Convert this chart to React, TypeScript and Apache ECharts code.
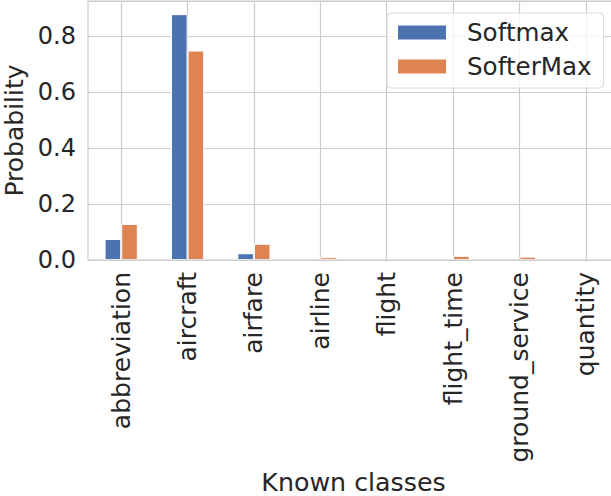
import React, { useEffect, useRef } from "react";
import * as echarts from "echarts";

const categories = [
  "abbreviation",
  "aircraft",
  "airfare",
  "airline",
  "flight",
  "flight_time",
  "ground_service",
  "quantity",
];
const softmaxValues = [0.075, 0.878, 0.024, 0, 0, 0, 0, 0];
const softerMaxValues = [0.129, 0.748, 0.058, 0.01, 0, 0.015, 0.012, 0];
const yTicks = [0, 0.2, 0.4, 0.6, 0.8];

const FONT = "DejaVu Sans";
const TXT = "#262626";

const toData = (arr: number[]) =>
  arr.map((v) => (v === 0 ? { value: 0, itemStyle: { borderWidth: 0 } } : v));

export default function App() {
  const ref = useRef<HTMLDivElement>(null);
  useEffect(() => {
    document.body.style.margin = "0";
    document.body.style.overflow = "hidden";
    if (!ref.current) return;
    const chart = echarts.init(ref.current, undefined, { renderer: "svg" });
    chart.setOption({
      animation: false,
      backgroundColor: "#ffffff",
      textStyle: { fontFamily: FONT },
      grid: {
        show: true,
        z: 10,
        left: 88,
        top: 1,
        right: 0,
        bottom: 236,
        borderColor: "#cccccc",
        borderWidth: 1.2,
        backgroundColor: "transparent",
        containLabel: false,
        outerBoundsMode: "none",
      },
      legend: {
        left: 387,
        top: 13,
        orient: "vertical",
        itemWidth: 50,
        itemHeight: 16,
        itemGap: 9,
        padding: [7, 12, 9, 9],
        backgroundColor: "rgba(255,255,255,0.8)",
        borderColor: "#d8d8d8",
        borderWidth: 1,
        borderRadius: 4,
        textStyle: {
          fontFamily: FONT,
          fontSize: 24.6,
          color: TXT,
          padding: [0, 0, 0, 15],
        },
        data: [
          { name: "Softmax", icon: "rect" },
          { name: "SofterMax", icon: "rect" },
        ],
      },
      xAxis: {
        type: "category",
        data: categories,
        name: "Known classes",
        nameLocation: "middle",
        nameGap: 203,
        nameTextStyle: { fontFamily: FONT, fontSize: 25.3, color: TXT },
        axisLine: { show: false },
        axisTick: { show: false },
        axisLabel: {
          rotate: 90,
          margin: 12,
          fontFamily: FONT,
          fontSize: 25,
          color: TXT,
          interval: 0,
        },
        splitLine: {
          show: true,
          alignWithLabel: true,
          lineStyle: { color: "#cccccc", width: 1.2 },
        },
      },
      yAxis: {
        type: "value",
        min: 0,
        max: 0.925,
        interval: 0.2,
        name: "Probability",
        nameLocation: "middle",
        nameGap: 44,
        nameTextStyle: { fontFamily: FONT, fontSize: 25, color: TXT },
        axisLine: { show: false },
        axisTick: { show: false },
        axisLabel: {
          margin: 12,
          fontFamily: FONT,
          fontSize: 24,
          color: TXT,
          showMaxLabel: false,
          formatter: (v: number) =>
            yTicks.some((t) => Math.abs(t - v) < 1e-6) ? v.toFixed(1) : "",
        },
        splitLine: { show: true, lineStyle: { color: "#cccccc", width: 1.2 } },
      },
      series: [
        {
          name: "Softmax",
          type: "bar",
          data: toData(softmaxValues),
          barWidth: 16.6,
          barGap: "0%",
          itemStyle: { color: "#4c72b0", borderColor: "#ffffff", borderWidth: 1 },
        },
        {
          name: "SofterMax",
          type: "bar",
          data: toData(softerMaxValues),
          barWidth: 16.6,
          barGap: "0%",
          itemStyle: { color: "#dd8452", borderColor: "#ffffff", borderWidth: 1 },
        },
      ],
    });
    return () => chart.dispose();
  }, []);
  return <div ref={ref} style={{ width: 619, height: 496 }} />;
}
